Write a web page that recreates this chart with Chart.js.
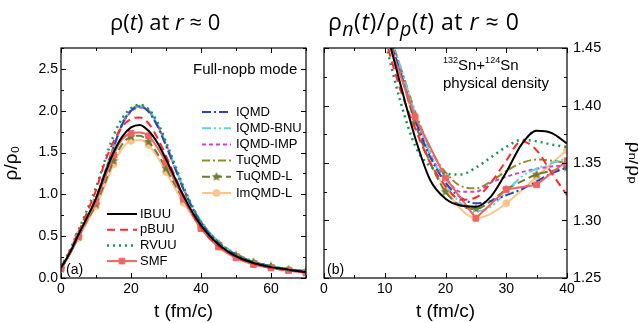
<!DOCTYPE html>
<html>
<head>
<meta charset="utf-8">
<script src="https://cdn.jsdelivr.net/npm/chart.js@4.4.1/dist/chart.umd.min.js"></script>
<style>
  body { margin: 0; background: #fff; width: 638px; height: 323px; overflow: hidden; position: relative; }
  .panel { position: absolute; top: 0; width: 320px; height: 323px; }
  .title { position: absolute; top: 6px; line-height: 30px; font-family: "Open Sans", sans-serif; font-size: 22px; white-space: nowrap; color: #000; }
  .title sub { font-size: 70%; line-height: 0; }
  #titleB { font-size: 23px; letter-spacing: 0.5px; }
  #titleB sub { font-size: 85%; }
</style>
</head>
<body>
<div class="panel" style="left:0"><canvas id="left"></canvas></div>
<div class="panel" style="left:318px"><canvas id="right"></canvas></div>
<div class="title" style="left:110px">ρ(<i>t</i>) at <i>r</i> ≈ 0</div>
<div class="title" id="titleB" style="left:328px">ρ<sub><i>n</i></sub>(<i>t</i>)/ρ<sub><i>p</i></sub>(<i>t</i>) at <i>r</i> ≈ 0</div>
<script>
// ---- data ----
const SERIES = ["IBUU", "pBUU", "RVUU", "SMF", "IQMD", "IQMD-BNU", "IQMD-IMP", "TuQMD", "TuQMD-L", "ImQMD-L"];

// (a) central density rho/rho0 vs t
const T_LEFT = [0, 2.5, 5, 7.5, 10, 12.5, 15, 17.5, 20, 22.5, 25, 27.5, 30, 32.5, 35, 37.5, 40, 45, 50, 55, 60, 65, 70];
const rhoIBUU    = [0.12, 0.30, 0.52, 0.73, 0.95, 1.24, 1.50, 1.69, 1.80, 1.83, 1.76, 1.62, 1.42, 1.20, 0.98, 0.79, 0.63, 0.40, 0.26, 0.18, 0.13, 0.10, 0.07];
const rhoPBUU    = [0.13, 0.32, 0.55, 0.79, 1.05, 1.38, 1.63, 1.81, 1.90, 1.92, 1.85, 1.68, 1.46, 1.22, 0.98, 0.77, 0.60, 0.38, 0.25, 0.17, 0.12, 0.09, 0.07];
const rhoRVUU    = [0.13, 0.33, 0.57, 0.82, 1.08, 1.40, 1.70, 1.91, 2.03, 2.07, 2.02, 1.87, 1.63, 1.36, 1.09, 0.86, 0.67, 0.42, 0.28, 0.19, 0.14, 0.10, 0.08];
const rhoSMF     = [0.12, 0.29, 0.50, 0.70, 0.91, 1.19, 1.47, 1.66, 1.73, 1.74, 1.70, 1.56, 1.38, 1.16, 0.95, 0.76, 0.59, 0.37, 0.24, 0.16, 0.12, 0.09, 0.06];
const rhoIQMD    = [0.11, 0.29, 0.50, 0.72, 0.95, 1.25, 1.56, 1.84, 2.00, 2.05, 1.99, 1.82, 1.58, 1.32, 1.06, 0.84, 0.66, 0.42, 0.28, 0.19, 0.14, 0.10, 0.08];
const rhoIQMDBNU = [0.11, 0.29, 0.50, 0.71, 0.94, 1.24, 1.55, 1.83, 2.00, 2.05, 2.00, 1.84, 1.60, 1.34, 1.08, 0.86, 0.68, 0.43, 0.28, 0.19, 0.14, 0.10, 0.08];
const rhoIQMDIMP = [0.11, 0.29, 0.50, 0.72, 0.95, 1.25, 1.56, 1.83, 1.99, 2.04, 1.99, 1.83, 1.60, 1.33, 1.07, 0.85, 0.67, 0.43, 0.28, 0.19, 0.14, 0.10, 0.08];
const rhoTuQMD   = [0.11, 0.29, 0.51, 0.72, 0.96, 1.26, 1.57, 1.85, 2.01, 2.06, 2.01, 1.84, 1.60, 1.33, 1.07, 0.85, 0.67, 0.43, 0.29, 0.20, 0.14, 0.11, 0.08];
const rhoTuQMDL  = [0.11, 0.29, 0.49, 0.69, 0.88, 1.13, 1.40, 1.60, 1.69, 1.70, 1.63, 1.49, 1.31, 1.12, 0.94, 0.77, 0.62, 0.41, 0.27, 0.19, 0.14, 0.10, 0.08];
const rhoImQMDL  = [0.11, 0.28, 0.48, 0.67, 0.86, 1.10, 1.36, 1.55, 1.64, 1.65, 1.59, 1.45, 1.27, 1.08, 0.90, 0.74, 0.60, 0.40, 0.26, 0.18, 0.13, 0.10, 0.07];

// (b) rho_n / rho_p vs t
const T_RIGHT = [10, 12.5, 15, 17.5, 20, 22.5, 25, 27.5, 30, 32.5, 35, 37.5, 40];
const ratioIBUU    = [1.470, 1.420, 1.372, 1.335, 1.319, 1.313, 1.312, 1.321, 1.342, 1.366, 1.378, 1.376, 1.367];
const ratioPBUU    = [1.460, 1.415, 1.380, 1.350, 1.330, 1.318, 1.320, 1.333, 1.352, 1.369, 1.361, 1.341, 1.322];
const ratioRVUU    = [1.457, 1.405, 1.365, 1.347, 1.341, 1.340, 1.346, 1.355, 1.364, 1.370, 1.369, 1.366, 1.364];
const ratioIQMD    = [1.470, 1.430, 1.388, 1.355, 1.333, 1.320, 1.315, 1.317, 1.322, 1.327, 1.334, 1.341, 1.346];
const ratioIQMDBNU = [1.475, 1.435, 1.393, 1.358, 1.333, 1.315, 1.308, 1.312, 1.325, 1.338, 1.345, 1.350, 1.354];
const ratioIQMDIMP = [1.470, 1.430, 1.390, 1.357, 1.337, 1.325, 1.325, 1.333, 1.338, 1.342, 1.345, 1.347, 1.348];
const ratioTuQMD   = [1.475, 1.435, 1.395, 1.362, 1.342, 1.330, 1.328, 1.334, 1.343, 1.350, 1.353, 1.352, 1.350];
const ratioTuQMDL  = [1.470, 1.430, 1.385, 1.350, 1.325, 1.313, 1.310, 1.317, 1.327, 1.334, 1.340, 1.343, 1.346];
const ratioImQMDL  = [1.470, 1.428, 1.385, 1.350, 1.328, 1.310, 1.302, 1.306, 1.315, 1.326, 1.338, 1.350, 1.361];
const T_RIGHT_SMF = [10, 15, 20, 25, 30, 35, 40];
const ratioSMF    = [1.465, 1.390, 1.337, 1.302, 1.327, 1.331, 1.352];

// axis ticks
const X_TICKS_LEFT = [0, 20, 40, 60];
const Y_TICKS_LEFT = [0, 0.5, 1.0, 1.5, 2.0, 2.5];
const X_TICKS_RIGHT = [0, 10, 20, 30, 40];
const Y_TICKS_RIGHT = [1.25, 1.30, 1.35, 1.40, 1.45];

// ---- styles ----
function starImage(color, r) {
    const c = document.createElement("canvas");
    const s = Math.ceil(r * 2 + 2);
    c.width = c.height = s;
    const g = c.getContext("2d");
    g.fillStyle = color;
    g.beginPath();
    for (let i = 0; i < 10; i++) {
        const a = -Math.PI / 2 + i * Math.PI / 5;
        const rr = i % 2 ? r * 0.45 : r;
        g.lineTo(s / 2 + rr * Math.cos(a), s / 2 + rr * Math.sin(a));
    }
    g.closePath();
    g.fill();
    return c;
}

const STYLE = {
    "IBUU":     { color: "#000000", dash: [], width: 2 },
    "pBUU":     { color: "#ff2a2a", dash: [8, 5], width: 2 },
    "RVUU":     { color: "#1a9455", dash: [2, 4], width: 2.5 },
    "SMF":      { color: "#f26262", dash: [], width: 2, marker: "rect", r: 4 },
    "IQMD":     { color: "#2446c2", dash: [9, 3, 2, 3], width: 2 },
    "IQMD-BNU": { color: "#5ad2e6", dash: [9, 3, 2, 3, 2, 3], width: 2 },
    "IQMD-IMP": { color: "#cc44c4", dash: [4, 3], width: 2 },
    "TuQMD":    { color: "#8e8e2a", dash: [8, 3, 2, 3], width: 2 },
    "TuQMD-L":  { color: "#6f7a32", dash: [8, 4], width: 2, marker: starImage("#6f7a32", 5), r: 5 },
    "ImQMD-L":  { color: "#ffc48a", dash: [], width: 2, marker: "circle", r: 3.5 }
};

function makeDataset(name, xs, ys, tension) {
    const st = STYLE[name];
    const ds = {
        label: name,
        data: xs.map((x, i) => ({ x: x, y: ys[i] })),
        borderColor: st.color,
        backgroundColor: st.color,
        borderWidth: st.width,
        borderDash: st.dash,
        fill: false,
        pointRadius: 0,
        pointHoverRadius: 0
    };
    if (tension === "monotone") ds.cubicInterpolationMode = "monotone";
    else ds.tension = 0;
    if (st.marker) {
        ds.pointStyle = st.marker;
        ds.pointRadius = c => (c.raw && c.raw.x % 5 === 0 ? st.r : 0);
        ds.pointBackgroundColor = st.color;
        ds.pointBorderColor = st.color;
        ds.pointBorderWidth = 1;
    }
    return ds;
}

// inward ticks on all four sides + frame
const frameTicks = {
    id: "frameTicks",
    afterDraw(chart, args, opts) {
        const { ctx, chartArea: a } = chart;
        const xs = chart.scales.x, ys = chart.scales.y;
        ctx.save();
        ctx.strokeStyle = "#000";
        ctx.lineWidth = 1;
        ctx.setLineDash([]);
        ctx.beginPath();
        for (let k = 0; ; k++) {
            const v = xs.min + k * opts.xMinor;
            if (v > xs.max + 1e-9) break;
            const len = Math.abs(v / opts.xMajor - Math.round(v / opts.xMajor)) < 1e-6 ? 5 : 3;
            const px = Math.round(xs.getPixelForValue(v)) + 0.5;
            ctx.moveTo(px, a.bottom); ctx.lineTo(px, a.bottom - len);
            ctx.moveTo(px, a.top); ctx.lineTo(px, a.top + len);
        }
        for (let k = 0; ; k++) {
            const v = ys.min + k * opts.yMinor;
            if (v > ys.max + 1e-9) break;
            const r = (v - ys.min) / opts.yMajor;
            const len = Math.abs(r - Math.round(r)) < 1e-6 ? 5 : 3;
            const py = Math.round(ys.getPixelForValue(v)) + 0.5;
            ctx.moveTo(a.left, py); ctx.lineTo(a.left + len, py);
            ctx.moveTo(a.right, py); ctx.lineTo(a.right - len, py);
        }
        ctx.stroke();
        ctx.lineWidth = 1.2;
        ctx.strokeRect(a.left, a.top, a.right - a.left, a.bottom - a.top);
        ctx.restore();
    }
};

// legend drawn in several blocks inside the plot
const splitLegend = {
    id: "splitLegend",
    afterDraw(chart, args, opts) {
        if (!opts.groups) return;
        const ctx = chart.ctx;
        ctx.save();
        ctx.font = opts.font;
        ctx.textBaseline = "middle";
        opts.groups.forEach(g => {
            g.names.forEach((name, i) => {
                const ds = chart.data.datasets.find(d => d.label === name);
                const st = STYLE[name];
                const y = g.y + i * g.dy;
                ctx.save();
                ctx.strokeStyle = ds.borderColor;
                ctx.lineWidth = ds.borderWidth;
                ctx.setLineDash(ds.borderDash);
                ctx.beginPath();
                ctx.moveTo(g.x1, y);
                ctx.lineTo(g.x2, y);
                ctx.stroke();
                ctx.restore();
                if (st.marker) {
                    ctx.save();
                    ctx.fillStyle = st.color;
                    ctx.strokeStyle = st.color;
                    Chart.helpers.drawPoint(ctx, { pointStyle: st.marker, radius: st.r, rotation: 0, borderWidth: 1 }, (g.x1 + g.x2) / 2, y);
                    ctx.restore();
                }
                ctx.fillStyle = "#000";
                ctx.fillText(name, g.textX, y);
            });
        });
        ctx.restore();
    }
};

// free text inside the plot, with superscripts
const notes = {
    id: "notes",
    afterDraw(chart, args, opts) {
        const ctx = chart.ctx;
        ctx.save();
        ctx.fillStyle = "#000";
        ctx.textBaseline = "middle";
        (opts.items || []).forEach(it => {
            let x = it.x;
            it.parts.forEach(p => {
                ctx.font = p.sup ? opts.supFont : (it.font || opts.font);
                ctx.fillText(p.t, x, p.sup ? it.y - 5 : it.y);
                x += ctx.measureText(p.t).width;
            });
        });
        ctx.restore();
    }
};

Chart.defaults.font.family = "'Liberation Sans', Arial, 'DejaVu Sans', sans-serif";
Chart.defaults.color = "#000";

function axis(min, max, ticks, fmt, extra) {
    return Object.assign({
        type: "linear",
        min: min,
        max: max,
        grid: { display: false, drawTicks: false },
        border: { display: false },
        afterBuildTicks: s => { s.ticks = ticks.map(v => ({ value: v })); },
        ticks: { color: "#000", font: { size: 14 }, callback: v => fmt(v) }
    }, extra);
}

// ---- (a) ----
const leftSets = [
    ["IBUU", rhoIBUU], ["pBUU", rhoPBUU], ["RVUU", rhoRVUU], ["SMF", rhoSMF],
    ["IQMD", rhoIQMD], ["IQMD-BNU", rhoIQMDBNU], ["IQMD-IMP", rhoIQMDIMP],
    ["TuQMD", rhoTuQMD], ["TuQMD-L", rhoTuQMDL], ["ImQMD-L", rhoImQMDL]
].map(([n, v]) => makeDataset(n, T_LEFT, v, "monotone"));

new Chart(document.getElementById("left"), {
    type: "line",
    data: { datasets: leftSets },
    options: {
        responsive: true,
        maintainAspectRatio: false,
        animation: false,
        events: [],
        layout: { padding: { top: 48, right: 14, left: 0, bottom: 0 } },
        scales: {
            x: axis(0, 70, X_TICKS_LEFT, v => String(v), {
                position: "bottom",
                afterFit: s => { s.height = 45; s.paddingLeft = 0; s.paddingRight = 0; },
                title: { display: true, text: "t (fm/c)", font: { size: 19 }, padding: 0, color: "#000" }
            }),
            y: axis(0, 2.75, Y_TICKS_LEFT, v => v.toFixed(1), {
                position: "left",
                afterFit: s => { s.width = 61; s.paddingTop = 0; s.paddingBottom = 0; },
                title: { display: true, text: "ρ/ρ₀", font: { size: 19 }, padding: 0, color: "#000" }
            })
        },
        plugins: {
            legend: { display: false },
            tooltip: { enabled: false },
            frameTicks: { xMajor: 20, xMinor: 10, yMajor: 0.5, yMinor: 0.25 },
            splitLegend: {
                font: "13px 'Liberation Sans', Arial, sans-serif",
                groups: [
                    { x1: 202, x2: 231, textX: 236, y: 112, dy: 16.2, names: ["IQMD", "IQMD-BNU", "IQMD-IMP", "TuQMD", "TuQMD-L", "ImQMD-L"] },
                    { x1: 107, x2: 137, textX: 140, y: 214, dy: 15.7, names: ["IBUU", "pBUU", "RVUU", "SMF"] }
                ]
            },
            notes: {
                font: "15px 'Liberation Sans', Arial, sans-serif",
                supFont: "9px 'Liberation Sans', Arial, sans-serif",
                items: [
                    { x: 193, y: 70, parts: [{ t: "Full-nopb mode" }] },
                    { x: 66, y: 270, font: "14px 'Liberation Sans', Arial, sans-serif", parts: [{ t: "(a)" }] }
                ]
            }
        }
    },
    plugins: [frameTicks, splitLegend, notes]
});

// ---- (b) ----
const rightSets = [
    ["IBUU", ratioIBUU], ["pBUU", ratioPBUU], ["RVUU", ratioRVUU],
    ["IQMD", ratioIQMD], ["IQMD-BNU", ratioIQMDBNU], ["IQMD-IMP", ratioIQMDIMP],
    ["TuQMD", ratioTuQMD], ["TuQMD-L", ratioTuQMDL], ["ImQMD-L", ratioImQMDL]
].map(([n, v]) => makeDataset(n, T_RIGHT, v, "monotone"));
rightSets.splice(3, 0, makeDataset("SMF", T_RIGHT_SMF, ratioSMF, "linear"));

new Chart(document.getElementById("right"), {
    type: "line",
    data: { datasets: rightSets },
    options: {
        responsive: true,
        maintainAspectRatio: false,
        animation: false,
        events: [],
        layout: { padding: { top: 48, right: 0, left: 4, bottom: 0 } },
        scales: {
            x: axis(0, 40, X_TICKS_RIGHT, v => String(v), {
                position: "bottom",
                afterFit: s => { s.height = 45; s.paddingLeft = 0; s.paddingRight = 0; },
                title: { display: true, text: "t (fm/c)", font: { size: 19 }, padding: 0, color: "#000" }
            }),
            y: axis(1.25, 1.45, Y_TICKS_RIGHT, v => v.toFixed(2), {
                position: "right",
                afterFit: s => { s.width = 71; s.paddingTop = 0; s.paddingBottom = 0; },
                ticks: { color: "#000", font: { size: 14.5 }, padding: 6, callback: v => v.toFixed(2) },
                title: { display: true, text: "ρₙ/ρₚ", font: { size: 19 }, padding: { top: -8 }, color: "#000" }
            })
        },
        plugins: {
            legend: { display: false },
            tooltip: { enabled: false },
            frameTicks: { xMajor: 10, xMinor: 5, yMajor: 0.05, yMinor: 0.025 },
            notes: {
                font: "15px 'Liberation Sans', Arial, sans-serif",
                supFont: "9px 'Liberation Sans', Arial, sans-serif",
                items: [
                    { x: 125, y: 66, parts: [{ t: "132", sup: true }, { t: "Sn+" }, { t: "124", sup: true }, { t: "Sn" }] },
                    { x: 125, y: 84, parts: [{ t: "physical density" }] },
                    { x: 9, y: 270, font: "14px 'Liberation Sans', Arial, sans-serif", parts: [{ t: "(b)" }] }
                ]
            }
        }
    },
    plugins: [frameTicks, notes]
});
</script>
</body>
</html>
